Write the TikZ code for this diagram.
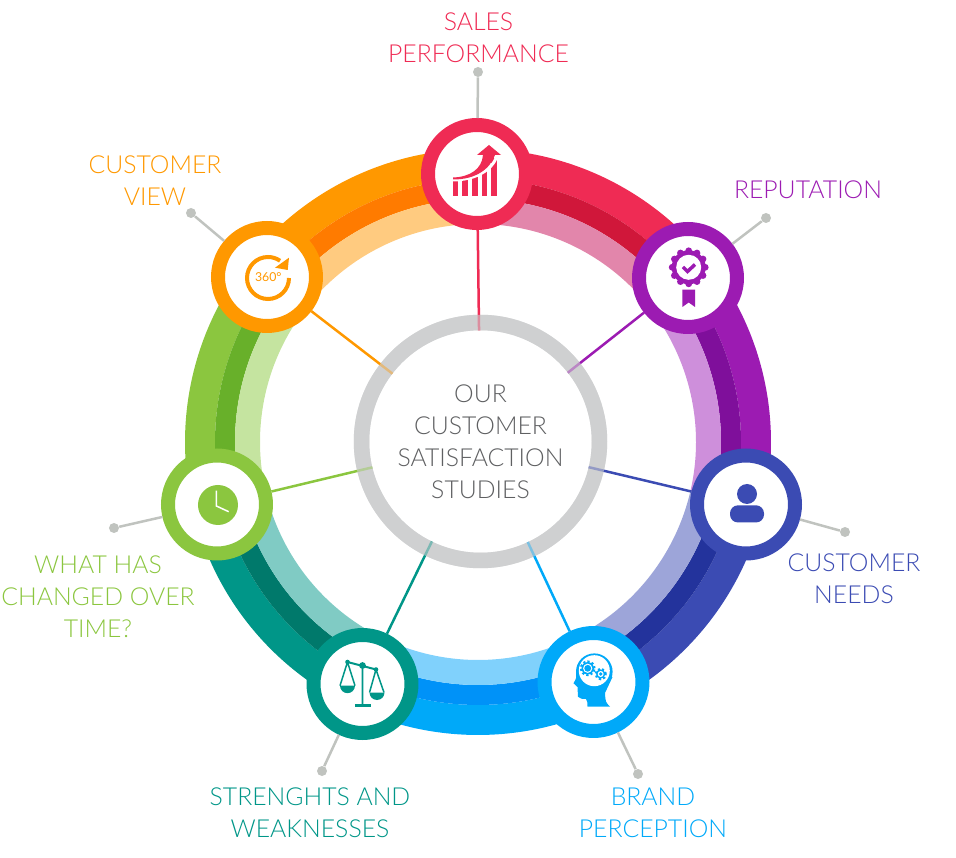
\documentclass[tikz,border=0pt]{standalone}
\usepackage{fontspec}
\setmainfont{Lato Light}
\newfontfamily\icontext{Lato}
\usetikzlibrary{positioning,calc}
\definecolor{redM}{HTML}{EF2B54}\definecolor{redD}{HTML}{D0173A}\definecolor{redL}{HTML}{E286AB}
\definecolor{purM}{HTML}{9C1BB2}\definecolor{purD}{HTML}{7F0F9B}\definecolor{purL}{HTML}{CE8FDB}
\definecolor{indM}{HTML}{3B4BB3}\definecolor{indD}{HTML}{23339C}\definecolor{indL}{HTML}{9DA5D9}
\definecolor{bluM}{HTML}{00A9F9}\definecolor{bluD}{HTML}{0092F8}\definecolor{bluL}{HTML}{80D1FC}
\definecolor{teaM}{HTML}{009688}\definecolor{teaD}{HTML}{00796B}\definecolor{teaL}{HTML}{80CBC4}
\definecolor{greM}{HTML}{8BC63F}\definecolor{greD}{HTML}{68B02A}\definecolor{greL}{HTML}{C5E4A0}
\definecolor{oraM}{HTML}{FF9800}\definecolor{oraD}{HTML}{FF7B00}\definecolor{oraL}{HTML}{FFCB80}
\definecolor{hubgrey}{HTML}{CFD0D1}
\definecolor{leadgrey}{HTML}{C0C3BF}
\definecolor{hubtext}{HTML}{5F6062}
\tikzset{
	badge/.style={circle,fill=white,line width=0.28cm,minimum size=1.96cm,inner sep=0pt},
	hub/.style={circle,fill=white,draw=hubgrey,line width=0.31cm,minimum size=4.76cm,inner sep=0pt,outer sep=0pt,
		align=center,text=hubtext,font=\fontsize{14.1}{18.14}\selectfont},
	lab/.style={align=center,font=\fontsize{14.1}{18.14}\selectfont},
	tipdot/.style={circle,fill=leadgrey,minimum size=0.2cm,inner sep=0pt},
	lead/.style={draw=leadgrey,line width=0.05cm},
	spoke/.style={line width=0.05cm,shorten >=-0.155cm},
}
\begin{document}
\begin{tikzpicture}[x=0.02cm,y=0.02cm]
	\useasboundingbox (-478,-416) rectangle (478,442);
	% ring
	\foreach \st/\en/\cM/\cD/\cL in {90/38/redM/redD/redL,38/-13/purM/purD/purL,-13/-64.3/indM/indD/indL,-64.3/-115.5/bluM/bluD/bluL,-115.5/-166.5/teaM/teaD/teaL,-166.5/-218/greM/greD/greL,142/90/oraM/oraD/oraL}{
		\draw[\cM,line width=0.6cm] (\st:278) arc (\st:\en:278);
		\draw[\cD,line width=0.4cm] (\st:253) arc (\st:\en:253);
		\draw[\cL,line width=0.5cm] (\st:230.5) arc (\st:\en:230.5);
	}
	\node[hub] (hub) at (2.5,0.5) {OUR\\CUSTOMER\\SATISFACTION\\STUDIES};
	\node[badge,draw=redM] (sales) at (-1,268) {};
	\node[badge,draw=purM] (reputation) at (210,164) {};
	\node[badge,draw=indM] (needs) at (268,-62.5) {};
	\node[badge,draw=bluM] (brand) at (115.5,-240) {};
	\node[badge,draw=teaM] (strengths) at (-115.5,-242) {};
	\node[badge,draw=greM] (changed) at (-261,-62.5) {};
	\node[badge,draw=oraM] (view) at (-211,165) {};
	% spokes
	\draw[spoke,redM] (sales) -- (hub);
	\draw[spoke,purM] (reputation) -- (hub);
	\draw[spoke,indM] (needs) -- (hub);
	\draw[spoke,bluM] (brand) -- (hub);
	\draw[spoke,teaM] (strengths) -- (hub);
	\draw[spoke,greM] (changed) -- (hub);
	\draw[spoke,oraM] (view) -- (hub);
	\draw[hubgrey,opacity=0.6,line width=0.31cm] (hub.center) circle (119);
	% leaders
	\node[tipdot] (salesdot) at (0,370) {};
	\node[tipdot] (reputationdot) at (288,224) {};
	\node[tipdot] (needsdot) at (367,-90) {};
	\node[tipdot] (branddot) at (160,-332) {};
	\node[tipdot] (strengthsdot) at (-156,-329) {};
	\node[tipdot] (changeddot) at (-364,-86) {};
	\node[tipdot] (viewdot) at (-287,229) {};
	\draw[lead] (salesdot) -- (sales);
	\draw[lead] (reputationdot) -- (reputation);
	\draw[lead] (needsdot) -- (needs);
	\draw[lead] (branddot) -- (brand);
	\draw[lead] (strengthsdot) -- (strengths);
	\draw[lead] (changeddot) -- (changed);
	\draw[lead] (viewdot) -- (view);
	% labels
	\node[lab,text=redM] (saleslabel) at (0.5,404) {SALES\\PERFORMANCE};
	\node[lab,text=purM] (reputationlabel) at (330,252) {REPUTATION};
	\node[lab,text=indM] (needslabel) at (376,-137) {CUSTOMER\\NEEDS};
	\node[lab,text=bluM] (brandlabel) at (175,-371) {BRAND\\PERCEPTION};
	\node[lab,text=teaM] (strengthslabel) at (-168,-371) {STRENGHTS AND\\WEAKNESSES};
	\node[lab,text=greM] (changedlabel) at (-380,-155) {WHAT HAS\\CHANGED OVER\\TIME?};
	\node[lab,text=oraM] (viewlabel) at (-323,261) {CUSTOMER\\VIEW};
	% icon: bars and arrow
	\begin{scope}[shift={(sales)}]
		\foreach \xa/\xb/\yt in {-24.5/-19/-7.5,-15.5/-9/-5.7,-5.5/1/-3,4.5/10/2.7,13.5/19.5/16}
			\fill[redM] (\xa,-21.7) rectangle (\xb,\yt);
		\draw[white,line width=0.06cm] (-25,-6) .. controls (-1,-6) and (15,4) .. (20,18);
		\fill[redM] (-24,-3.5) .. controls (-7,-3) and (5,5) .. (6,19) -- (0,19) -- (12,29) -- (24,19) -- (18,19)
			.. controls (13,5) and (-1,-5.5) .. (-24,-5.5) -- cycle;
	\end{scope}
	% icon: rosette
	\begin{scope}[shift={(reputation)}]
		\fill[purM] (0.7,10.7) circle (17);
		\foreach \a in {0,30,...,330}
			\fill[purM] ($(0.7,10.7)+(\a:16.5)$) circle (3.4);
		\fill[white] (0.7,10.7) circle (12.5);
		\draw[purM,line width=0.07cm] (-5,11) -- (-0.5,6.5) -- (7,13.5);
		\fill[purM] (-5.6,-11.7) -- (7,-11.7) -- (7,-29) -- (0.7,-24.5) -- (-5.6,-29) -- cycle;
	\end{scope}
	% icon: person
	\begin{scope}[shift={(needs)}]
		\fill[indM] (1,10.5) circle (10);
		\fill[indM,rounded corners=0.16cm] (-16,-18) rectangle (18,-0.8);
	\end{scope}
	% icon: head with gears
	\begin{scope}[shift={(brand)}]
		\fill[bluM] (0.8,10.3) circle (18.3);
		\fill[bluM] (-17.5,10) .. controls (-17,4) .. (-20,-1.3) -- (-16,-5) -- (-15.5,-14.7) .. controls (-12,-17) .. (-7.5,-17)
			.. controls (-6,-20) .. (-6,-24.7) -- (16.5,-24.7) .. controls (12,-20) .. (11.5,-11) -- (19,5) -- cycle;
		\fill[white] (0.8,11.3) circle (15.5);
		\foreach \gx/\gy/\gr in {-5.8/13.7/6.6,7.2/8/5}{
			\draw[bluM,line width=0.05cm,dash pattern=on 1.2pt off 1.2pt] (\gx,\gy) circle (\gr);
			\fill[bluM] (\gx,\gy) circle (\gr-0.4);
			\fill[white] (\gx,\gy) circle (\gr-2);
			\fill[bluM] (\gx,\gy) circle (\gr-3.2);
		}
	\end{scope}
	% icon: scales
	\begin{scope}[shift={(strengths)}]
		\draw[teaM,line width=0.03cm] (-15,22) -- (-22.5,-1.7) (-15,22) -- (-7.5,-1.7) (13.5,14.5) -- (7,-8.5) (13.5,14.5) -- (21.5,-8.5);
		\draw[teaM,line width=0.04cm] (-15,22) -- (13.5,14.5) (0,18.5) -- (0,-20.5);
		\draw[teaM,line width=0.06cm] (-7.5,-21) -- (8,-21);
		\fill[teaM] (-22.5,-1.7) arc (180:360:7.5) -- cycle;
		\fill[teaM] (7,-8.5) arc (180:360:7.5) -- cycle;
		\fill[teaM] (-15,22) circle (2.3) (13.5,14.5) circle (2.3) (0,18.5) circle (3.4);
	\end{scope}
	% icon: clock
	\begin{scope}[shift={(changed)}]
		\fill[greM] (1,-0.5) circle (20);
		\draw[white,line width=0.03cm] (-0.6,13.8) -- (-0.6,-1.5) -- (11.7,-7.2);
	\end{scope}
	% icon: 360 arrow
	\begin{scope}[shift={(view)}]
		\draw[oraM,line width=0.08cm] (22,-1) arc (0:-305:21);
		\fill[oraM] (8,9.3) -- (22,19.3) -- (20.7,7) -- cycle;
		\node[text=oraM,font=\icontext\fontsize{7}{8}\selectfont] (viewdeg) at (1.3,-0.3) {360°};
	\end{scope}
\end{tikzpicture}
\end{document}
